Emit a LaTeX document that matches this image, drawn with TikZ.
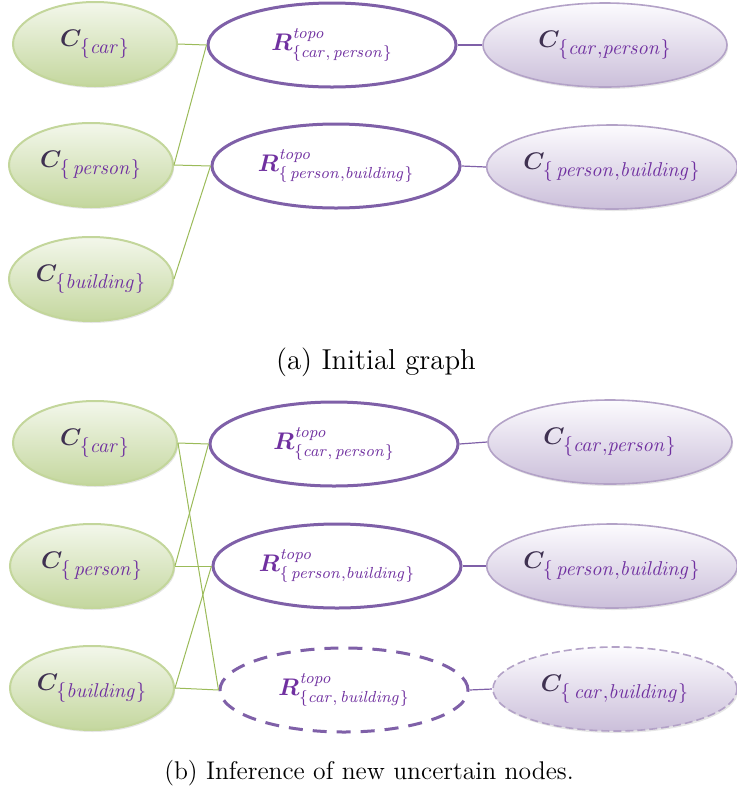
\documentclass[tikz,border=0pt]{standalone}
\usepackage{bm}
\usetikzlibrary{shapes.geometric,shadows}

\definecolor{greenline}{HTML}{9BBB59}
\definecolor{greenedge}{HTML}{C3D69B}
\definecolor{greentop}{HTML}{F3F7EB}
\definecolor{greenbot}{HTML}{C4D79E}
\definecolor{lilacedge}{HTML}{B3A2C7}
\definecolor{lilactop}{HTML}{FCFBFE}
\definecolor{lilacbot}{HTML}{CBBFDA}
\definecolor{relline}{HTML}{7F60A8}
\definecolor{labelpurple}{HTML}{7030A0}
\definecolor{labeldark}{HTML}{3F3151}

% subscripts of the concept labels are set larger than script size
\newcommand{\cset}[1]{$\color{labeldark}\bm{C}_{\mbox{\color{labelpurple}\fontsize{9.6}{11}\selectfont$\{\mathit{#1}\}$}}$}
\newcommand{\rtopo}[1]{$\color{labelpurple}\bm{R}^{\mathit{topo}}_{\{\mathit{#1}\}}$}

\tikzset{
  concept/.style={ellipse, draw=greenedge, line width=1pt, top color=greentop, bottom color=greenbot,
    minimum width=82pt, minimum height=42pt, inner sep=0pt, font=\large,
    drop shadow={opacity=0.2, shadow xshift=0.6pt, shadow yshift=-1pt}},
  relation/.style={ellipse, draw=relline, line width=1.5pt, fill=white,
    minimum width=124pt, minimum height=42pt, inner sep=0pt, font=\large},
  combined/.style={ellipse, draw=lilacedge, line width=0.8pt, top color=lilactop, bottom color=lilacbot,
    minimum width=122pt, minimum height=42pt, inner sep=0pt, font=\large,
    drop shadow={opacity=0.2, shadow xshift=0.6pt, shadow yshift=-1pt}},
  uncertain/.style={dash pattern=on 7pt off 5pt},
  greenlink/.style={draw=greenline, line width=0.5pt},
  lilaclink/.style={draw=relline, line width=0.6pt},
}

\begin{document}
\begin{tikzpicture}[x=0.5pt, y=-0.5pt]
    \useasboundingbox (0,0) rectangle (736,794);

    % (a) initial graph
    \node[concept] (car) at (95,44) {\cset{car}};
    \node[concept] (person) at (91,165) {\cset{\,person}};
    \node[concept] (building) at (91,279) {\cset{building}};

    \node[relation] (rcp) at (332,45) {\rtopo{car,\,person}};
    \node[relation] (rpb) at (336,166) {\rtopo{\,person{,}building}};

    \node[combined] (ccp) at (605,45) {\cset{car{,}person}};
    \node[combined] (cpb) at (612,167) {\cset{\,person{,}building}};

    \draw[greenlink] (car.east) -- (rcp.west);
    \draw[greenlink] (person.east) -- (rcp.west);
    \draw[greenlink] (person.east) -- (rpb.west);
    \draw[greenlink] (building.east) -- (rpb.west);
    \draw[lilaclink] (rcp.east) -- (ccp.west);
    \draw[lilaclink] (rpb.east) -- (cpb.west);

    \node[font=\Large] (capa) at (376,362) {(a) Initial graph};

    % (b) inference of new uncertain nodes
    \node[concept] (car2) at (95,443) {\cset{car}};
    \node[concept] (person2) at (92,566) {\cset{\,person}};
    \node[concept] (building2) at (92,688) {\cset{building}};

    \node[relation] (rcp2) at (334,444) {\rtopo{car,\,person}};
    \node[relation] (rpb2) at (337,566) {\rtopo{\,person{,}building}};
    \node[relation, uncertain] (rcb2) at (344,690) {\rtopo{car,\,building}};

    \node[combined] (ccp2) at (610,442) {\cset{car{,}person}};
    \node[combined] (cpb2) at (612,566) {\cset{\,person{,}building}};
    \node[combined, dash pattern=on 4pt off 2pt] (ccb2) at (615,689) {\cset{\,car{,}building}};

    \draw[greenlink] (car2.east) -- (rcp2.west);
    \draw[greenlink] (car2.east) -- (rcb2.west);
    \draw[greenlink] (person2.east) -- (rcp2.west);
    \draw[greenlink] (person2.east) -- (rpb2.west);
    \draw[greenlink] (building2.east) -- (rpb2.west);
    \draw[greenlink] (building2.east) -- (rcb2.west);
    \draw[lilaclink] (rcp2.east) -- (ccp2.west);
    \draw[lilaclink] (rpb2.east) -- (cpb2.west);
    \draw[lilaclink] (rcb2.east) -- (ccb2.west);

    \node[font=\fontsize{12.8}{15}\selectfont] (capb) at (369,773) {(b) Inference of new uncertain nodes.};
\end{tikzpicture}
\end{document}
